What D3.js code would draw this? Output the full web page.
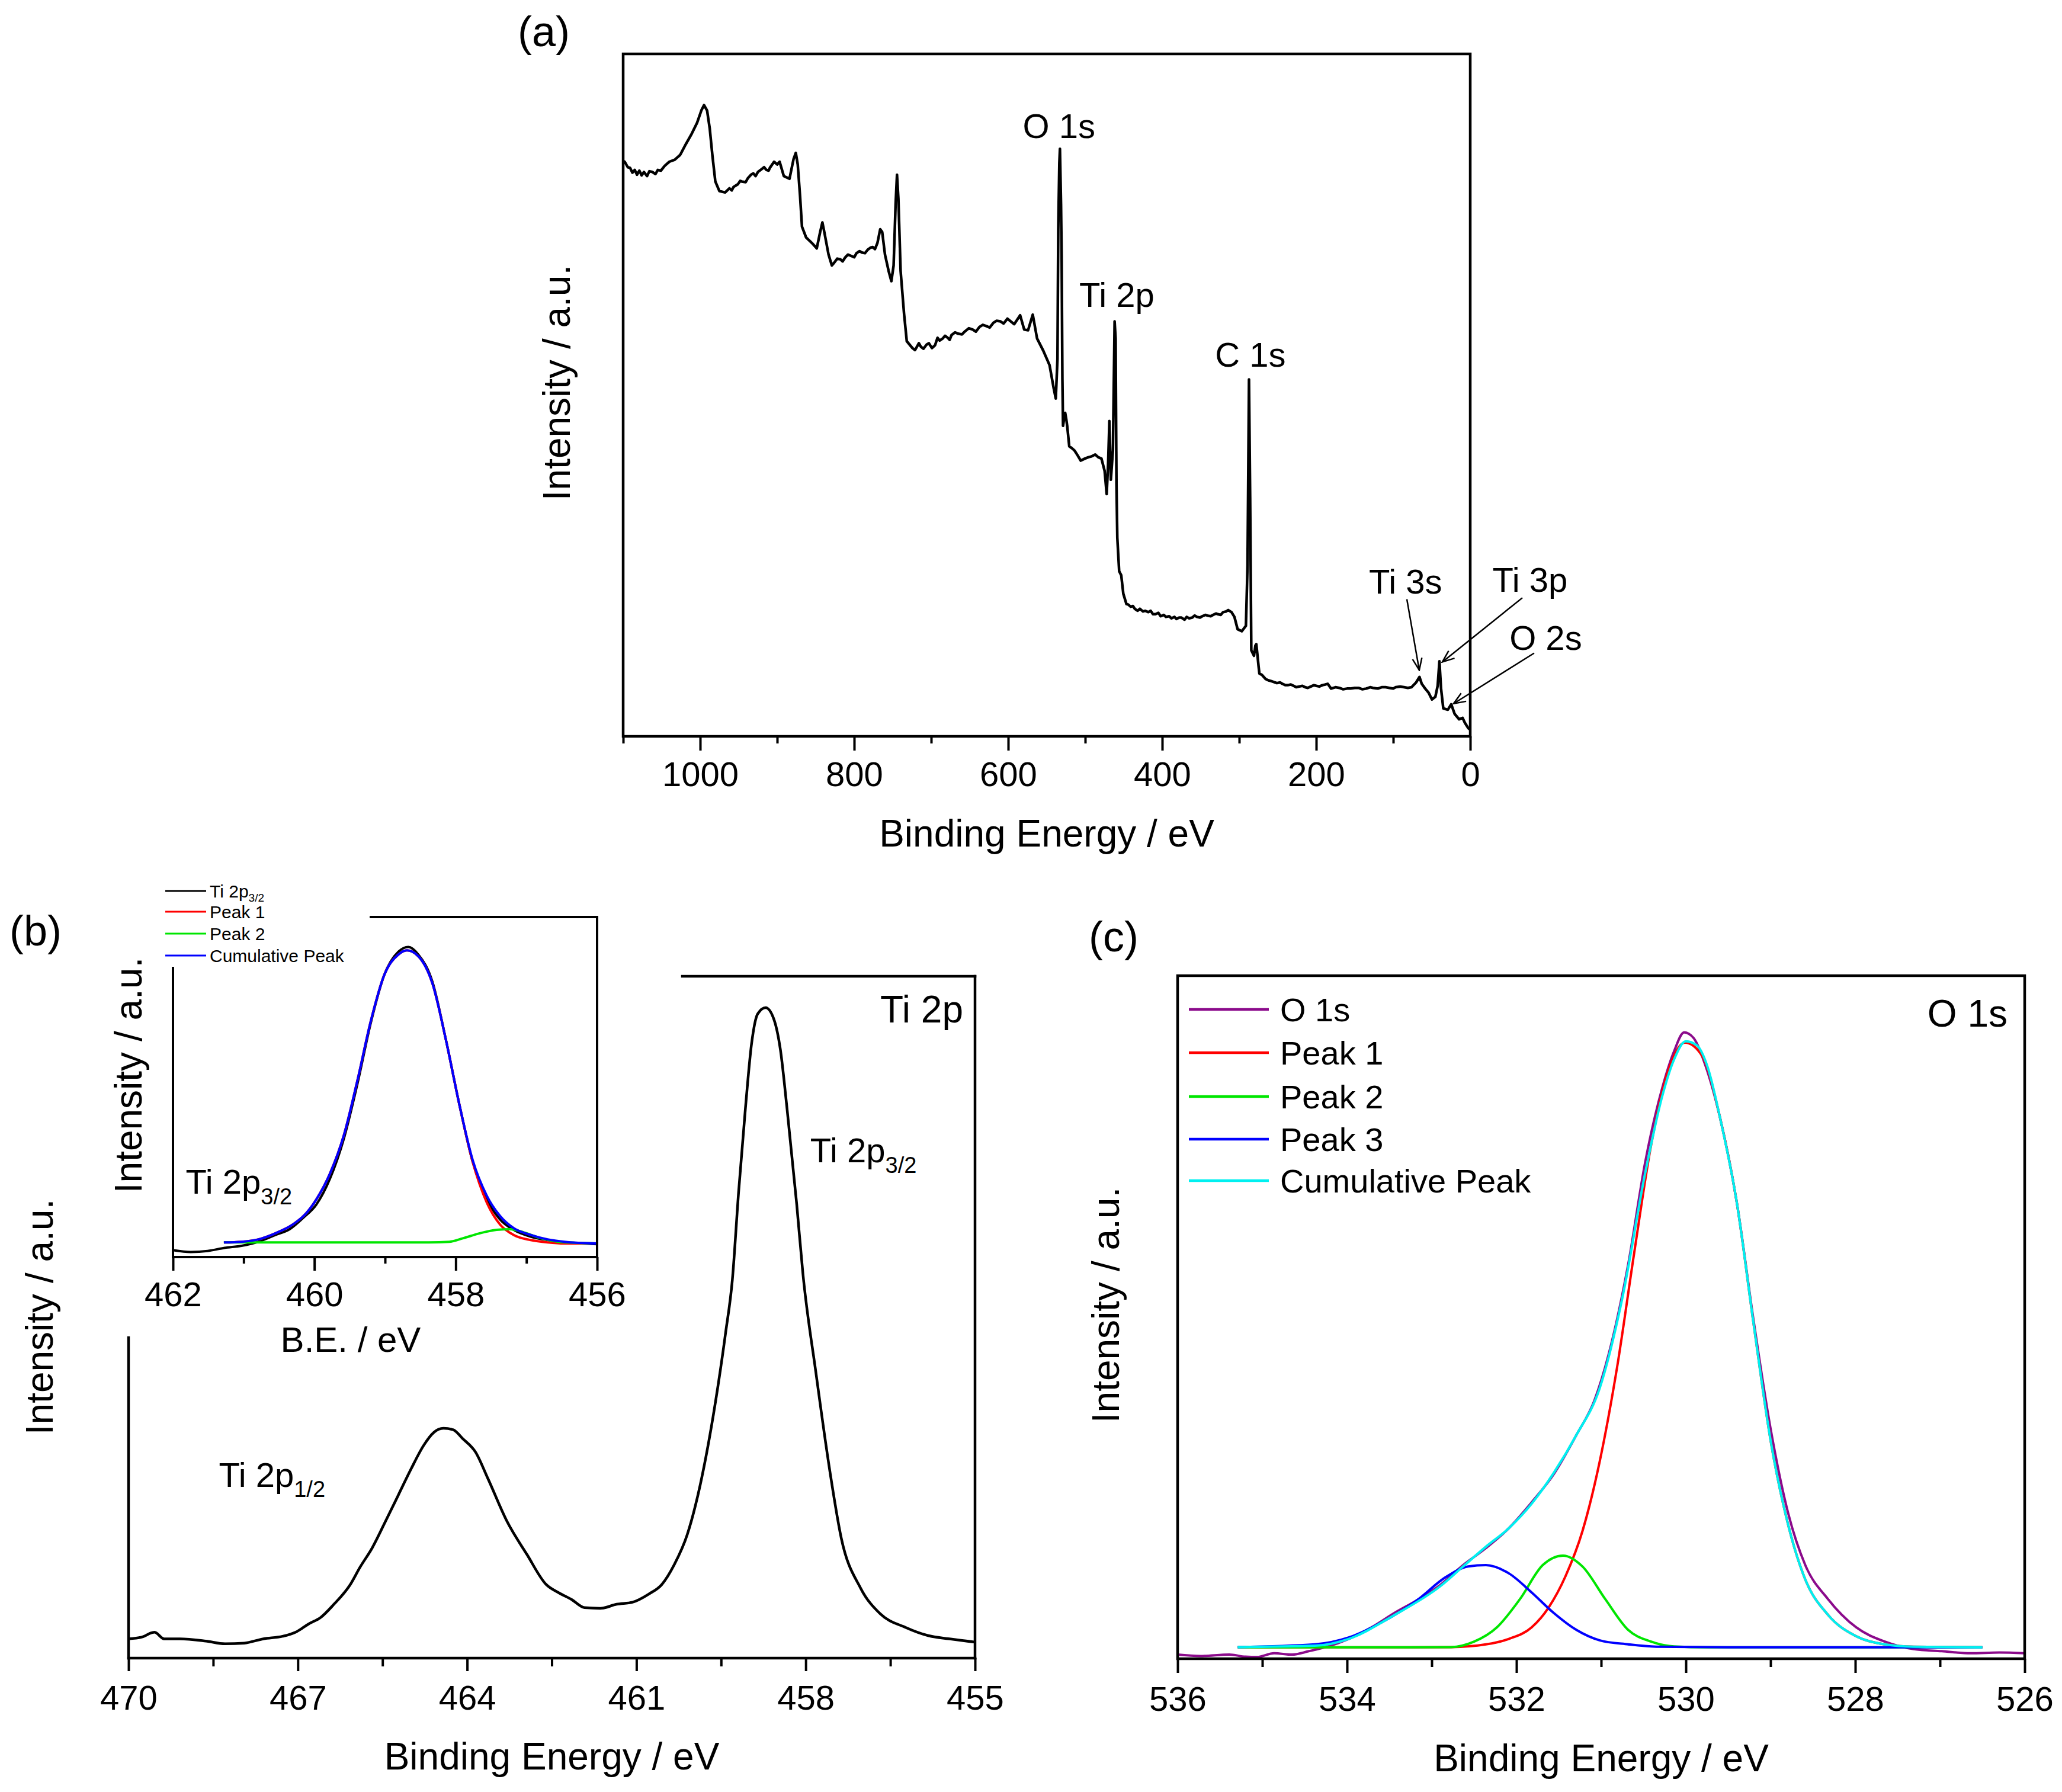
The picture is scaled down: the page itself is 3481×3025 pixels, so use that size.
<!DOCTYPE html>
<html>
<head>
<meta charset="utf-8">
<script src="https://cdn.jsdelivr.net/npm/d3@7"></script>
<style>html,body{margin:0;padding:0;background:#fff}</style>
</head>
<body>
<div id="chart"></div>
<script>
// ---------- (a) survey spectrum: [binding energy, intensity] ----------
const surveyData = [
  [1100, 84.3], [1098, 84.2], [1094, 83.4], [1091, 83.3], [1088, 82.6], [1085, 83.0], [1082, 82.3], [1079, 82.9],
  [1076, 82.2], [1073, 82.7], [1069, 82.1], [1066, 82.8], [1062, 82.7], [1058, 82.4], [1055, 83.0], [1051, 82.9],
  [1046, 83.6], [1040, 84.2], [1033, 84.5], [1026, 85.2], [1018.5, 86.8], [1011, 88.3], [1004, 89.9], [998.5, 91.7],
  [995, 92.5], [991, 91.7], [987.6, 89.1], [984, 85], [980.3, 81.3], [975, 79.9], [967.6, 79.7], [962, 80.3],
  [959, 80.0], [956.7, 80.5], [951, 80.9], [948, 81.4], [945.9, 81.3], [941, 81.2], [938, 81.8], [934, 82.3],
  [931, 82.5], [928, 82.1], [925, 82.7], [920.4, 83.1], [917, 83.4], [914, 83.0], [911, 82.9], [909.5, 83.3],
  [904, 84.2], [900, 83.8], [896.8, 84.2], [891.4, 82.1], [884, 81.7], [878.7, 84.6], [875.8, 85.5], [873.3, 83.8],
  [870.3, 79.2], [867.8, 74.7], [862.4, 73.1], [855, 72.3], [848.6, 71.5], [844.2, 73.9], [841.3, 75.3], [838.8, 73.9],
  [833.3, 70.6], [829, 69.0], [826, 69.4], [822, 70.0], [818, 69.9], [815, 69.6], [811.5, 70.2], [808, 70.6],
  [804, 70.4], [800, 70.2], [797, 70.8], [793, 71.1], [790, 70.9], [786, 70.8], [782.5, 71.3], [779, 71.6],
  [776, 71.7], [773, 71.4], [769.8, 72.3], [766.2, 74.3], [763.6, 73.9], [760, 70.6], [755.3, 68.2], [751.7, 66.7],
  [748.8, 69], [746.2, 78], [744.4, 82.3], [742.6, 78.8], [739.7, 68.2], [735.3, 62.0], [731.7, 57.9], [724.4, 56.9],
  [721, 56.6], [718, 57.2], [716, 57.6], [713.5, 57.1], [710, 56.8], [706, 57.4], [703, 57.6], [699, 56.9],
  [695, 57.3], [691.8, 58.4], [689, 58.0], [685, 58.3], [682, 58.7], [678.5, 58.4], [676, 58.1], [673.6, 58.8],
  [669, 59.2], [665, 59.0], [660, 58.9], [655.5, 59.4], [651, 59.8], [646, 59.6], [642, 59.3], [637.3, 60],
  [633, 60.3], [628, 60.1], [624, 59.9], [619.2, 60.6], [615, 60.9], [610, 60.8], [606, 60.5], [601, 61.2],
  [592.2, 60.4], [584.5, 61.7], [579.2, 59.6], [574.2, 59.5], [568.1, 61.8], [562.5, 58.3], [554.4, 56.5], [546.3, 54.4],
  [540.9, 51], [538.2, 49.5], [536, 55.3], [535, 74.2], [533.6, 84], [532.8, 86.1], [531.4, 78], [530.6, 70.5],
  [529.6, 52.3], [528.8, 45.5], [527.5, 46.5], [526, 47.4], [524.5, 46.4], [523.4, 45.5], [520.7, 42.5], [517, 42.2],
  [514, 41.9], [510, 41.2], [505.8, 40.4], [500.4, 40.7], [496, 40.9], [492.3, 41], [487, 41.3], [483, 40.9],
  [478.9, 40.7], [474.8, 38.9], [472.1, 35.5], [470.2, 40.1], [468.6, 46.2], [466.7, 37.6], [464, 41.9], [461.8, 60.8],
  [460.5, 58.3], [459.4, 37], [458.3, 29.1], [455.9, 24.2], [453.2, 23.6], [450.5, 20.9], [446.5, 19.4], [444, 19.3],
  [441, 19.0], [438, 19.1], [435.7, 18.7], [432, 18.4], [429, 18.7], [425, 18.3], [422.2, 18.4], [418, 18.2],
  [415, 18.4], [412, 17.9], [408.7, 17.9], [405, 18.1], [402, 17.6], [398, 17.8], [395.2, 17.5], [391, 17.6],
  [388, 17.3], [384, 17.5], [381.7, 17.2], [378, 17.4], [375, 17.4], [371, 17.1], [368.2, 17.5], [365, 17.3],
  [361, 17.4], [358, 17.7], [354.7, 17.5], [351, 17.4], [348, 17.6], [344, 17.8], [341.3, 17.7], [337, 17.6],
  [334, 17.8], [330, 18.0], [327.8, 17.9], [324, 17.8], [321, 18.2], [317, 18.3], [314.3, 18.5], [310, 18.2],
  [306.2, 17.5], [302.1, 15.7], [296.7, 15.4], [291.3, 16.2], [289.2, 25], [287.3, 52.3], [285.8, 35], [284.3, 12.6],
  [280.8, 11.8], [279, 13.3], [277.8, 13.5], [276.5, 12.1], [274.9, 10.3], [273.8, 9.2], [270.5, 9.0], [265.7, 8.4],
  [262, 8.2], [258.7, 8.1], [251, 7.8], [247, 7.9], [244, 7.7], [240, 7.5], [237, 7.5], [233, 7.6],
  [229.3, 7.4], [226, 7.2], [222, 7.3], [218, 7.4], [214.5, 7.2], [211, 7.1], [207, 7.3], [203, 7.5],
  [199.8, 7.4], [196, 7.3], [192, 7.5], [188, 7.6], [185.1, 7.7], [180.7, 7.0], [175, 7.2], [170, 7.1],
  [165, 6.9], [160, 7.0], [155.7, 7.0], [150, 7.1], [145, 7.1], [140, 6.9], [135, 7.0], [130, 7.2],
  [126.2, 7.1], [120, 7.0], [115, 7.2], [110, 7.2], [105, 7.1], [100, 7.0], [96.8, 7.2], [91, 7.3],
  [86, 7.2], [81, 7.1], [76.2, 7.2], [70.3, 7.9], [65.9, 8.7], [63, 7.7], [58.5, 7.0], [54.1, 6.4],
  [49.7, 5.4], [45.3, 5.8], [42.3, 7.4], [40, 11], [37.9, 7], [35, 4.1], [29.1, 3.9], [24.7, 4.7],
  [20.3, 3.3], [14.4, 2.5], [9.9, 2.7], [7, 2.0], [2.6, 1.2], [0.2, 1.0]
];
const surveyTicks = [1000, 800, 600, 400, 200, 0];
const surveyMinor = [1100, 900, 700, 500, 300, 100];
const surveyLabels = ['O 1s', 'Ti 2p', 'C 1s', 'Ti 3s', 'Ti 3p', 'O 2s'];
const surveyLabelBE = [534, 459, 285.4, 84, -77.6, -98];
const surveyLabelInt = [87.7, 62.9, 54.2, 20.9, 21.2, 12.7];
// arrows: [BE, intensity] start -> end
const arrowFrom = [[82.3, 20.1], [-67.7, 20.3], [-83, 12.2]];
const arrowTo = [[66.2, 9.7], [36.2, 10.9], [21.6, 4.8]];

// ---------- (b) Ti 2p ----------
const ti2pBE = [470, 469.77, 469.54, 469.37, 469.09, 468.63, 468.29, 467.95, 467.61, 467.27, 467.04, 466.81, 466.59, 466.36, 466.07,
  465.9, 465.68, 465.45, 465.22, 464.99, 464.77, 464.59, 464.42, 464.25, 464.08, 463.85, 463.63, 463.29, 462.94, 462.6,
  462.38, 462.15, 461.92, 461.64, 461.35, 461.07, 460.78, 460.55, 460.33, 460.1, 459.87, 459.64, 459.42, 459.3, 459.19,
  459.07, 458.96, 458.85, 458.71, 458.56, 458.45, 458.33, 458.16, 458.05, 457.82, 457.57, 457.37, 457.03, 456.68, 456.23,
  455.83, 455.43, 455];
const ti2pInt = [2.83, 3.07, 3.8, 2.83, 2.83, 2.5, 2.1, 2.2, 2.83, 3.2, 3.8, 5, 6, 7.9, 10.8,
  13.3, 16.2, 20, 23.9, 27.8, 31.2, 33.1, 33.7, 33.5, 32.2, 30.2, 26.3, 20, 15.2, 10.8,
  9.6, 8.6, 7.4, 7.3, 7.9, 8.2, 9.4, 10.8, 13.7, 18.1, 25.4, 35.5, 47.7, 55.5, 68.3,
  80.5, 90.1, 94.5, 95.4, 93.6, 89.3, 80.5, 66.6, 56.4, 41.9, 27.3, 17.6, 10.3, 6.5, 4.5,
  3.3, 2.8, 2.35];
const ti2pTicks = [470, 467, 464, 461, 458, 455];
const ti2pMinor = [468.5, 465.5, 462.5, 459.5, 456.5];

// inset of (b): Ti 2p3/2 fit
const insetDataBE = [461.99, 461.75, 461.51, 461.27, 461.03, 460.79, 460.55, 460.35, 460.16, 459.97, 459.78, 459.58, 459.39, 459.2, 459.01,
  458.81, 458.67, 458.53, 458.33, 458.14, 457.95, 457.76, 457.56, 457.37, 457.18, 456.94, 456.7, 456.46, 456.22, 456];
const insetDataInt = [2, 1.5, 1.8, 2.7, 3.3, 4.5, 6.5, 8.2, 11.5, 15.5, 23, 35, 51, 69, 83,
  89.8, 91.2, 89, 81, 64, 45, 28, 17, 11, 8, 6, 5, 4.3, 4, 3.8];
const insetFitBE = [461.28, 461.03, 460.79, 460.55, 460.31, 460.11, 459.97, 459.78, 459.58, 459.39, 459.2, 459.01, 458.81, 458.69, 458.53,
  458.33, 458.14, 457.95, 457.76, 457.56, 457.37, 457.18, 456.94, 456.7, 456.46, 456];
const insetCumInt = [4.3, 4.5, 5.2, 7, 9.5, 13, 17, 24.5, 36, 52, 69.5, 83, 89, 90.2, 88.5,
  80.5, 64, 45, 28.5, 18, 12, 8.5, 6.5, 5.2, 4.5, 4];
const insetPeak1Int = [4.3, 4.5, 5.2, 7, 9.5, 13, 17, 24.5, 36, 52, 69.5, 83, 89, 90.2, 88.5,
  80.5, 64, 45, 28, 16, 9.5, 6.5, 5, 4.3, 4, 4];
const insetPeak2BE = [461.28, 458.38, 458.09, 457.9, 457.66, 457.42, 457.23, 457.03, 456.79, 456.55, 456.31, 456];
const insetPeak2Int = [4.3, 4.3, 4.5, 5.5, 7, 8, 8.2, 7.2, 5.5, 4.5, 4.2, 4];
const insetTicks = [462, 460, 458, 456];
const insetMinor = [461, 459, 457];
const insetNames = ['Ti 2p', 'Peak 1', 'Peak 2', 'Cumulative Peak'];
const insetColors = ['#000', '#ff0000', '#00e600', '#0000ff'];

// ---------- (c) O 1s ----------
const o1sBE = [536, 535.73, 535.39, 535.2, 535.06, 534.86, 534.65, 534.45, 534.25, 533.98, 533.71, 533.44, 533.17, 532.9, 532.63,
  532.36, 532.09, 531.82, 531.56, 531.29, 531.08, 530.88, 530.68, 530.48, 530.28, 530.14, 530.02, 529.91, 529.77, 529.6,
  529.4, 529.2, 529.0, 528.79, 528.59, 528.32, 527.99, 527.65, 527.31, 526.98, 526.64, 526.3, 526];
const o1sInt = [0.6, 0.4, 0.6, 0.3, 0.25, 0.8, 0.6, 1.1, 1.7, 2.9, 4.6, 6.7, 8.6, 10.8, 13.7,
  16.2, 19.1, 22.9, 27, 32.8, 37.8, 46.1, 57.8, 72.7, 83.5, 88.9, 91.7, 90.9, 86.9, 79.4,
  66.9, 49.5, 33.7, 21.2, 13.7, 8.7, 4.6, 2.5, 1.4, 1.1, 0.8, 0.9, 0.8];
const cumBE = [535.29, 534.38, 533.98, 533.44, 532.9, 532.63, 532.36, 532.09, 531.82, 531.56, 531.29, 531.02, 530.75, 530.48, 530.28,
  530.14, 530.0, 529.87, 529.74, 529.6, 529.4, 529.2, 529.0, 528.79, 528.59, 528.32, 527.99, 527.65, 527.31, 526.5];
const cumInt = [1.7, 1.9, 2.9, 6.4, 10.6, 13.5, 16.4, 19.1, 22.7, 27.2, 32.8, 39.5, 52.8, 71.1, 82.3,
  87.7, 90.4, 89.8, 86.5, 79.4, 66.9, 49, 32, 19.5, 11.6, 6.4, 3.3, 2.1, 1.75, 1.66];
const peak1BE = [535.29, 533.5, 532.77, 532.36, 532.09, 531.82, 531.62, 531.42, 531.22, 531.02, 530.81, 530.61, 530.41, 530.21, 530.01,
  529.8, 529.6, 529.4, 529.2, 529.0, 528.79, 528.59, 528.32, 527.99, 527.65, 527.31, 526.5];
const peak1Int = [1.66, 1.66, 1.7, 2.1, 2.9, 4.6, 7.5, 12.1, 18.7, 28.7, 42.8, 59.4, 75.2, 86, 90.2,
  88.1, 79.4, 66.9, 49, 32, 19.5, 11.6, 6.4, 3.3, 2.1, 1.75, 1.66];
const peak2BE = [535.29, 533.5, 532.77, 532.5, 532.23, 531.96, 531.69, 531.45, 531.22, 530.95, 530.68, 530.41, 530.14, 529.74, 526.5];
const peak2Int = [1.66, 1.66, 1.7, 2.5, 4.6, 8.7, 13.7, 15.1, 13.5, 8.7, 4.2, 2.5, 1.8, 1.66, 1.66];
const peak3BE = [535.29, 534.38, 533.98, 533.58, 533.17, 532.84, 532.57, 532.36, 532.09, 531.82, 531.56, 531.29, 531.02, 530.68, 530.34, 529.5, 526.5];
const peak3Int = [1.7, 2.1, 3.1, 5.4, 8.6, 11.9, 13.5, 13.7, 12.5, 9.7, 6.7, 4.2, 2.7, 2.1, 1.75, 1.66, 1.66];
const o1sTicks = [536, 534, 532, 530, 528, 526];
const o1sMinor = [535, 533, 531, 529, 527];
const o1sLegend = ['O 1s', 'Peak 1', 'Peak 2', 'Peak 3', 'Cumulative Peak'];
const o1sColors = ['#8b0a8b', '#ff0000', '#00e600', '#0000ff', '#00f0f0'];

// ---------- drawing ----------
const W = 3481, H = 3025;
const FONT = '"Liberation Sans", Arial, Helvetica, sans-serif';

const svg = d3.select('#chart').append('svg')
    .attr('width', W).attr('height', H)
    .style('display', 'block');
svg.append('rect').attr('width', W).attr('height', H).attr('fill', '#fff');

svg.append('defs').append('marker')
    .attr('id', 'arrow')
    .attr('viewBox', '-24 -12 26 24')
    .attr('refX', 0).attr('refY', 0)
    .attr('markerWidth', 26).attr('markerHeight', 24)
    .attr('markerUnits', 'userSpaceOnUse')
    .attr('orient', 'auto')
    .append('path')
    .attr('d', 'M-20,-8L0,0L-20,8')
    .attr('fill', 'none').attr('stroke', '#000').attr('stroke-width', 2.5);

const zip = (xs, ys) => xs.map((x, i) => [x, ys[i]]);

function seg(g, x1, y1, x2, y2, w) {
    g.append('line')
        .attr('x1', x1).attr('y1', y1).attr('x2', x2).attr('y2', y2)
        .attr('stroke', '#000').attr('stroke-width', w || 4.5)
        .attr('stroke-linecap', 'square');
}

function label(g, x, y, str, size, anchor) {
    return g.append('text')
        .attr('x', x).attr('y', y)
        .attr('font-family', FONT).attr('font-size', size)
        .attr('text-anchor', anchor || 'start')
        .attr('fill', '#000')
        .text(str);
}

function subLabel(g, x, y, main, sub, size, subSize) {
    const t = g.append('text')
        .attr('x', x).attr('y', y)
        .attr('font-family', FONT).attr('font-size', size)
        .attr('fill', '#000');
    t.append('tspan').text(main);
    t.append('tspan').attr('font-size', subSize).attr('dy', size * 0.3).text(sub);
    return t;
}

function yTitle(g, baseX, centerY, str, size) {
    g.append('text')
        .attr('transform', `translate(${baseX},${centerY}) rotate(-90)`)
        .attr('text-anchor', 'middle')
        .attr('font-family', FONT).attr('font-size', size)
        .attr('fill', '#000')
        .text(str);
}

function bottomTicks(g, x, y0, majors, minors, majorLen, minorLen, labelY, fs) {
    const major = g.append('g')
        .attr('transform', `translate(0,${y0})`)
        .call(d3.axisBottom(x).tickValues(majors).tickSize(majorLen).tickSizeOuter(0).tickFormat(d3.format('d')));
    major.select('.domain').remove();
    major.selectAll('line').attr('stroke', '#000').attr('stroke-width', 4);
    major.selectAll('text')
        .attr('y', labelY).attr('dy', 0)
        .attr('font-family', FONT).attr('font-size', fs).attr('fill', '#000');
    const minor = g.append('g')
        .attr('transform', `translate(0,${y0})`)
        .call(d3.axisBottom(x).tickValues(minors).tickSize(minorLen).tickSizeOuter(0).tickFormat(''));
    minor.select('.domain').remove();
    minor.selectAll('line').attr('stroke', '#000').attr('stroke-width', 4);
}

function trace(g, x, y, pts, color, width, curve) {
    g.append('path')
        .datum(pts)
        .attr('fill', 'none')
        .attr('stroke', color)
        .attr('stroke-width', width)
        .attr('stroke-linejoin', 'round')
        .attr('d', d3.line().x(d => x(d[0])).y(d => y(d[1])).curve(curve || d3.curveLinear));
}

// ----- panel (a)
const gA = svg.append('g');
const xA = d3.scaleLinear().domain([1100, 0]).range([1052, 2482]);
const yA = d3.scaleLinear().domain([0, 100]).range([1243, 91]);

trace(gA, xA, yA, surveyData, '#000', 4.5);
gA.append('rect')
    .attr('x', xA(1100)).attr('y', yA(100))
    .attr('width', xA(0) - xA(1100)).attr('height', yA(0) - yA(100))
    .attr('fill', 'none').attr('stroke', '#000').attr('stroke-width', 4.5);
bottomTicks(gA, xA, yA(0), surveyTicks, surveyMinor, 24, 12, 84, 58);

surveyLabels.forEach((s, i) => {
    label(gA, xA(surveyLabelBE[i]), yA(surveyLabelInt[i]), s, 58, 'middle');
});
arrowFrom.forEach((p, i) => {
    gA.append('line')
        .attr('x1', xA(p[0])).attr('y1', yA(p[1]))
        .attr('x2', xA(arrowTo[i][0])).attr('y2', yA(arrowTo[i][1]))
        .attr('stroke', '#000').attr('stroke-width', 2.5)
        .attr('marker-end', 'url(#arrow)');
});
label(gA, (xA(1100) + xA(0)) / 2, 1429, 'Binding Energy / eV', 64, 'middle');
yTitle(gA, 962, 646, 'Intensity / a.u.', 64);
label(gA, 874, 78, '(a)', 72);

// ----- panel (b)
const gB = svg.append('g');
const xB = d3.scaleLinear().domain([470, 455]).range([217, 1646]);
const yB = d3.scaleLinear().domain([0, 100]).range([2799, 1648]);

trace(gB, xB, yB, zip(ti2pBE, ti2pInt), '#000', 4.5, d3.curveMonotoneX);
seg(gB, xB(470), yB(0), xB(455), yB(0));
seg(gB, xB(455), yB(100), xB(455), yB(0));
seg(gB, 1152, yB(100), xB(455), yB(100));
seg(gB, xB(470), 2258, xB(470), yB(0));
bottomTicks(gB, xB, yB(0), ti2pTicks, ti2pMinor, 22, 14, 87, 58);

label(gB, xB(455) - 20, 1726, 'Ti 2p', 64, 'end');
subLabel(gB, xB(457.92), yB(72.7), 'Ti 2p', '3/2', 58, 38);
subLabel(gB, xB(468.4), yB(25.1), 'Ti 2p', '1/2', 58, 38);
label(gB, (xB(470) + xB(455)) / 2, 2987, 'Binding Energy / eV', 64, 'middle');
yTitle(gB, 89, 2223, 'Intensity / a.u.', 64);
label(gB, 16, 1596, '(b)', 72);

// inset
const gI = svg.append('g');
const xI = d3.scaleLinear().domain([462, 456]).range([292, 1008]);
const yI = d3.scaleLinear().domain([0, 100]).range([2122, 1548]);

trace(gI, xI, yI, zip(insetDataBE, insetDataInt), '#000', 4, d3.curveMonotoneX);
trace(gI, xI, yI, zip(insetFitBE, insetPeak1Int), '#ff0000', 4, d3.curveMonotoneX);
trace(gI, xI, yI, zip(insetPeak2BE, insetPeak2Int), '#00e600', 4, d3.curveMonotoneX);
trace(gI, xI, yI, zip(insetFitBE, insetCumInt), '#0000ff', 4, d3.curveMonotoneX);
seg(gI, xI(462), yI(0), xI(456), yI(0), 4);
seg(gI, xI(456), yI(100), xI(456), yI(0), 4);
seg(gI, 626, yI(100), xI(456), yI(100), 4);
seg(gI, xI(462), 1634, xI(462), yI(0), 4);
bottomTicks(gI, xI, yI(0), insetTicks, insetMinor, 23, 11, 83, 58);

subLabel(gI, xI(461.82), yI(18.6), 'Ti 2p', '3/2', 58, 38);
label(gI, 592, 2282, 'B.E. / eV', 60, 'middle');
yTitle(gI, 239, 1815, 'Intensity / a.u.', 64);

const insetRows = [1504, 1539, 1576, 1613];
insetNames.forEach((s, i) => {
    gI.append('line')
        .attr('x1', 279).attr('x2', 348)
        .attr('y1', insetRows[i]).attr('y2', insetRows[i])
        .attr('stroke', insetColors[i]).attr('stroke-width', 3);
    const t = gI.append('text')
        .attr('x', 354).attr('y', insetRows[i]).attr('dy', '0.35em')
        .attr('font-family', FONT).attr('font-size', 30).attr('fill', '#000');
    t.append('tspan').text(s);
    if (i === 0) t.append('tspan').attr('font-size', 19).attr('dy', 7).text('3/2');
});

// ----- panel (c)
const gC = svg.append('g');
const xC = d3.scaleLinear().domain([536, 526]).range([1988, 3418]);
const yC = d3.scaleLinear().domain([0, 100]).range([2800, 1647]);

trace(gC, xC, yC, zip(o1sBE, o1sInt), o1sColors[0], 4, d3.curveMonotoneX);
trace(gC, xC, yC, zip(peak1BE, peak1Int), o1sColors[1], 4, d3.curveMonotoneX);
trace(gC, xC, yC, zip(peak2BE, peak2Int), o1sColors[2], 4, d3.curveMonotoneX);
trace(gC, xC, yC, zip(peak3BE, peak3Int), o1sColors[3], 4, d3.curveMonotoneX);
trace(gC, xC, yC, zip(cumBE, cumInt), o1sColors[4], 4, d3.curveMonotoneX);
gC.append('rect')
    .attr('x', xC(536)).attr('y', yC(100))
    .attr('width', xC(526) - xC(536)).attr('height', yC(0) - yC(100))
    .attr('fill', 'none').attr('stroke', '#000').attr('stroke-width', 4.5);
bottomTicks(gC, xC, yC(0), o1sTicks, o1sMinor, 24, 14, 88, 58);

const legendRows = [1704, 1777, 1851, 1923, 1993];
o1sLegend.forEach((s, i) => {
    gC.append('line')
        .attr('x1', 2007).attr('x2', 2142)
        .attr('y1', legendRows[i]).attr('y2', legendRows[i])
        .attr('stroke', o1sColors[i]).attr('stroke-width', 4.5);
    label(gC, 2161, legendRows[i], s, 56).attr('dy', '0.36em');
});
label(gC, xC(526) - 29, 1733, 'O 1s', 64, 'end');
label(gC, (xC(536) + xC(526)) / 2, 2990, 'Binding Energy / eV', 64, 'middle');
yTitle(gC, 1889, 2203, 'Intensity / a.u.', 64);
label(gC, 1838, 1606, '(c)', 72);
</script>
</body>
</html>
